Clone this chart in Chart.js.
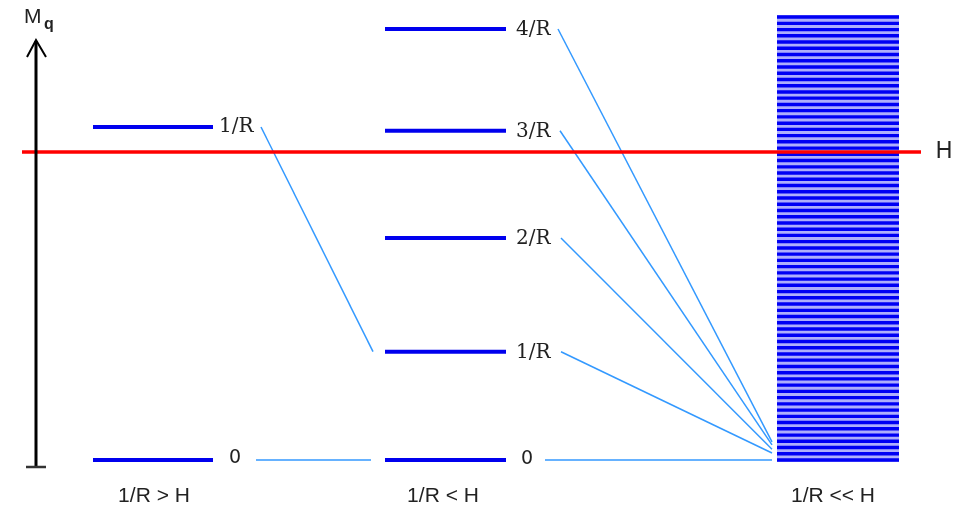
<!DOCTYPE html>
<html><head><meta charset="utf-8">
<script src="https://cdn.jsdelivr.net/npm/chart.js@4"></script>
<style>html,body{margin:0;padding:0;background:#fff}#wrap{width:967px;height:508px;position:relative}</style>
</head><body><div id="wrap"><canvas id="c"></canvas></div>
<script>
// ---- data (energy levels, in units where the 1/R level of column 2 ~ 1) ----
const col1Levels = [0, 3.075];
const col1Labels = ['0', '1/R'];
const col2Levels = [0, 1.0, 2.05, 3.04, 3.98];
const col2Labels = ['0', '1/R', '2/R', '3/R', '4/R'];
const bandLevels = [0, 0.058, 0.115, 0.173, 0.230, 0.288, 0.346, 0.403, 0.461, 0.518,
  0.576, 0.634, 0.691, 0.749, 0.806, 0.864, 0.922, 0.979, 1.037, 1.094,
  1.152, 1.210, 1.267, 1.325, 1.382, 1.440, 1.498, 1.555, 1.613, 1.670,
  1.728, 1.786, 1.843, 1.901, 1.958, 2.016, 2.074, 2.131, 2.189, 2.246,
  2.304, 2.362, 2.419, 2.477, 2.534, 2.592, 2.650, 2.707, 2.765, 2.822,
  2.880, 2.938, 2.995, 3.053, 3.110, 3.168, 3.226, 3.283, 3.341, 3.398,
  3.456, 3.514, 3.571, 3.629, 3.686, 3.744, 3.802, 3.859, 3.917, 3.974,
  4.032, 4.090];
const hLevel = 2.844;
const hLabel = 'H';
const col1ToCol2 = [[0, 0], [1, 1]];            // col1 level index -> col2 level index
const fanTargets = [0, 0.065, 0.10, 0.139, 0.167]; // band-end level reached from each col2 level
const columnTitles = ['1/R > H', '1/R < H', '1/R << H'];
const axisTitle = 'M', axisSub = 'q';

// ---- layout (positions/styles) ----
const L = {
  yMin: -0.4432, yMax: 4.2475, xMin: 0, xMax: 967,
  col1: [93, 213], col2: [385, 506], band: [777, 899],
  hLine: [22, 921],
  c12Start: [256, 261], c12End: [371, 373],
  fanStart: [545, 561, 561, 560, 558], fanEnd: 772,
  col1LabelX: [235, 219], col2LabelX: [527, 516],
  titleX: [154, 443, 833], titleY: 496,
  levelColor: '#0000ee', connColor: '#3399ff', bandColor: '#0000f4', bandBg: '#aeaefc'
};

function seg(x0, x1, y0, y1, color, width, order) {
  return { data: [{x: x0, y: y0}, {x: x1, y: y1}], showLine: true, borderColor: color,
    borderWidth: width, pointRadius: 0, borderCapStyle: 'butt', order: order, fill: false };
}

const datasets = [];
datasets.push(seg(L.hLine[0], L.hLine[1], hLevel, hLevel, '#ff0000', 3.5, 0));
col1Levels.forEach(v => datasets.push(seg(L.col1[0], L.col1[1], v, v, L.levelColor, 4, 1)));
col2Levels.forEach(v => datasets.push(seg(L.col2[0], L.col2[1], v, v, L.levelColor, 4, 1)));
col1ToCol2.forEach(([a, b]) => datasets.push(seg(L.c12Start[a], L.c12End[a], col1Levels[a], col2Levels[b], L.connColor, 1.5, 2)));
col2Levels.forEach((v, i) => datasets.push(seg(L.fanStart[i], L.fanEnd, v, fanTargets[i], L.connColor, 1.5, 2)));
bandLevels.forEach(v => datasets.push(seg(L.band[0], L.band[1], v, v, L.bandColor, 3.4, 3)));

const deco = {
  id: 'deco',
  beforeDatasetsDraw(chart) {
    const {ctx, scales: {x, y}} = chart;
    ctx.save();
    ctx.fillStyle = L.bandBg;
    const top = y.getPixelForValue(bandLevels[bandLevels.length - 1]) - 2;
    const bot = y.getPixelForValue(bandLevels[0]) + 2;
    ctx.fillRect(x.getPixelForValue(L.band[0]), top, x.getPixelForValue(L.band[1]) - x.getPixelForValue(L.band[0]), bot - top);
    ctx.restore();
  },
  afterDatasetsDraw(chart) {
    const {ctx, scales: {x, y}} = chart;
    ctx.save();
    ctx.strokeStyle = '#000'; ctx.lineWidth = 3;
    ctx.beginPath(); ctx.moveTo(36, 467); ctx.lineTo(36, 41); ctx.stroke();
    ctx.lineWidth = 2;
    ctx.beginPath(); ctx.moveTo(27, 57); ctx.lineTo(36, 40); ctx.lineTo(46, 57); ctx.stroke();
    ctx.strokeStyle = '#333'; ctx.lineWidth = 2.5;
    ctx.beginPath(); ctx.moveTo(26, 467); ctx.lineTo(46, 467); ctx.stroke();
    ctx.fillStyle = '#222'; ctx.textBaseline = 'alphabetic'; ctx.textAlign = 'left';
    ctx.font = '21px "Liberation Sans", Arial, sans-serif';
    ctx.fillText(axisTitle, 24, 23);
    ctx.font = 'bold 16px "Liberation Sans", Arial, sans-serif';
    ctx.fillText(axisSub, 44, 29);
    ctx.textBaseline = 'middle';
    const lab = (t, px, v, dy) => {
      if (t === '0') { ctx.font = '19px "DejaVu Sans", sans-serif'; ctx.textAlign = 'center'; }
      else { ctx.font = '20px "DejaVu Serif", serif'; ctx.textAlign = 'left'; }
      ctx.fillText(t, px, y.getPixelForValue(v) + dy);
    };
    col1Levels.forEach((v, i) => lab(col1Labels[i], L.col1LabelX[i === 0 ? 0 : 1], v, i === 0 ? -2 : 0));
    col2Levels.forEach((v, i) => lab(col2Labels[i], L.col2LabelX[i === 0 ? 0 : 1], v, i === 0 ? -1 : 1));
    ctx.font = '23px "Liberation Sans", Arial, sans-serif'; ctx.textAlign = 'center';
    ctx.fillText(hLabel, 944, y.getPixelForValue(hLevel));
    ctx.font = '21px "Liberation Sans", Arial, sans-serif';
    columnTitles.forEach((t, i) => ctx.fillText(t, L.titleX[i], L.titleY));
    ctx.restore();
  }
};

new Chart(document.getElementById('c'), {
  type: 'scatter',
  data: { datasets },
  options: {
    responsive: true, maintainAspectRatio: false, animation: false, events: [],
    layout: { padding: 0 },
    plugins: { legend: { display: false }, tooltip: { enabled: false } },
    scales: {
      x: { type: 'linear', display: false, min: L.xMin, max: L.xMax },
      y: { type: 'linear', display: false, min: L.yMin, max: L.yMax }
    }
  },
  plugins: [deco]
});
</script></body></html>
